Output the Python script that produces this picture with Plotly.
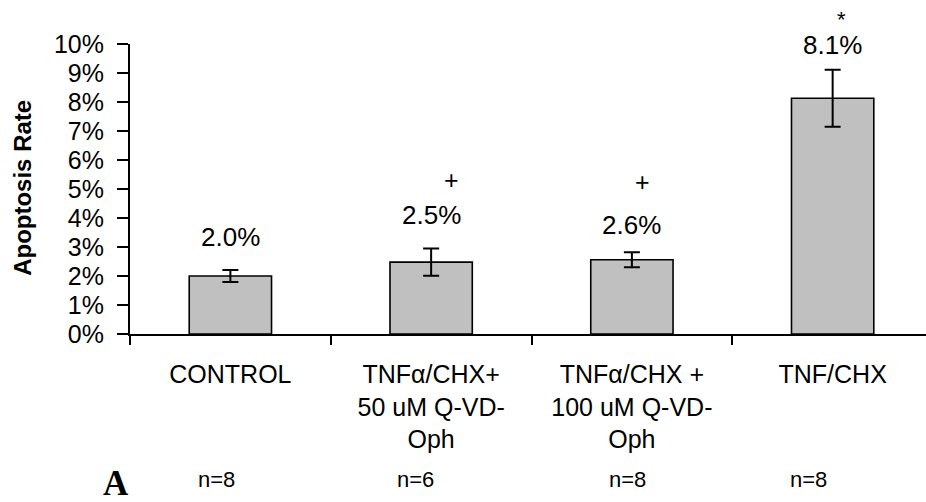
import plotly.graph_objects as go

# ---- data ----
categories = ["CONTROL", "TNFα/CHX+<br>50 uM Q-VD-<br>Oph", "TNFα/CHX +<br>100 uM Q-VD-<br>Oph", "TNF/CHX"]
apoptosis_rate = [0.0200, 0.0248, 0.0256, 0.0813]
error_sem = [0.0021, 0.0047, 0.0026, 0.0098]
significance = ["", "+", "+", "*"]
n_counts = [8, 6, 8, 8]
y_ticks = [i / 100 for i in range(0, 11)]

# ---- layout helpers (positions, not data) ----
FONT = "Liberation Sans, Arial, Helvetica, sans-serif"
value_label_y = [0.0336, 0.0410, 0.0375, 0.0997]
sig_label_y_paper = [None, 0.530, 0.525, 1.083]
sig_xshift = [0, 20, 11, 9]
n_xshift = [-14, -16, -4, -24]

fig = go.Figure()
fig.add_trace(go.Bar(
    x=categories,
    y=apoptosis_rate,
    width=0.41,
    marker=dict(color="#C0C0C0", line=dict(color="black", width=1.6)),
    error_y=dict(type="data", array=error_sem, visible=True,
                 color="black", thickness=2, width=8),
    hoverinfo="skip",
))

annotations = []
for i, v in enumerate(apoptosis_rate):
    annotations.append(dict(x=i, y=value_label_y[i], xref="x", yref="y",
                            text=f"{v*100:.1f}%", showarrow=False,
                            font=dict(family=FONT, size=26, color="black"),
                            xanchor="center", yanchor="middle"))
    if significance[i]:
        annotations.append(dict(x=i, y=sig_label_y_paper[i], xref="x", yref="paper",
                                xshift=sig_xshift[i],
                                text=significance[i], showarrow=False,
                                font=dict(family=FONT, size=25 if significance[i] == "+" else 22, color="black"),
                                xanchor="center", yanchor="middle"))
    annotations.append(dict(x=i, y=-0.50, xref="x", yref="paper",
                            xshift=n_xshift[i],
                            text=f"n={n_counts[i]}", showarrow=False,
                            font=dict(family=FONT, size=22, color="black"),
                            xanchor="center", yanchor="middle"))

annotations.append(dict(x=-0.1344, y=0.504, xref="paper", yref="paper",
                        text="<b>Apoptosis Rate</b>", textangle=-90, showarrow=False,
                        font=dict(family=FONT, size=24, color="black"),
                        xanchor="center", yanchor="middle"))
annotations.append(dict(x=-0.018, y=-0.514, xref="paper", yref="paper",
                        text="<b>A</b>", showarrow=False,
                        font=dict(family="Liberation Serif, Times New Roman, serif", size=35, color="black"),
                        xanchor="center", yanchor="middle"))

fig.update_layout(
    width=926, height=502,
    margin=dict(l=130, r=0, t=44, b=167.5, pad=0),
    paper_bgcolor="white", plot_bgcolor="white",
    showlegend=False,
    font=dict(family=FONT, size=25, color="black"),
    annotations=annotations,
    xaxis=dict(
        type="category", categoryorder="array", categoryarray=categories,
        range=[-0.5, 3.465], tickson="boundaries",
        ticks="outside", ticklen=9, tickwidth=2, tickcolor="black",
        showline=True, linecolor="black", linewidth=2,
        showgrid=False, zeroline=False,
        tickfont=dict(family=FONT, size=25, color="black"),
        ticklabelstandoff=17,
    ),
    yaxis=dict(
        range=[0, 0.10], tickvals=y_ticks, tickformat=".0%",
        ticks="outside", ticklen=11, tickwidth=2, tickcolor="black",
        showline=True, linecolor="black", linewidth=2,
        showgrid=False, zeroline=False,
        tickfont=dict(family=FONT, size=25, color="black"),
        ticklabelstandoff=8,
    ),
)

fig.write_html("out.html", config={"displayModeBar": False},
               post_script="document.body.style.margin='0';")
